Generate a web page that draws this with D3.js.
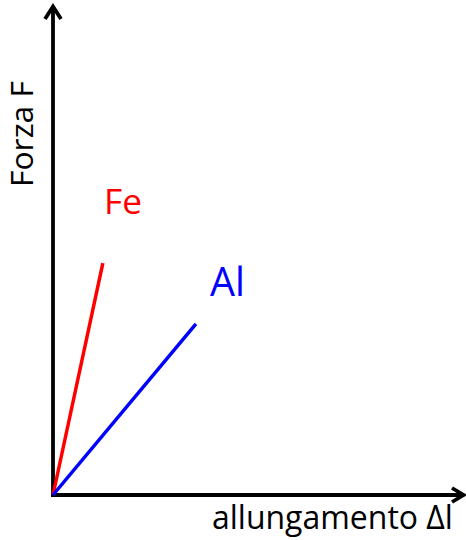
<!DOCTYPE html>
<html>
<head>
<meta charset="utf-8">
<script src="https://cdn.jsdelivr.net/npm/d3@7"></script>
<style>
  html, body { margin: 0; padding: 0; background: #fff; }
  svg { display: block; }
</style>
</head>
<body>
<script>
// ---- data ----
const materials = ["Fe", "Al"];
const colors = ["#ff0000", "#0000ff"];
const elongation = [12.1, 34.7];   // end point Δl (arbitrary units)
const force = [47.3, 34.9];        // end point F (arbitrary units)
const xLabel = "allungamento Δl";
const yLabel = "Forza F";

const W = 466, H = 540;
const svg = d3.select("body").append("svg").attr("width", W).attr("height", H);

const x = d3.scaleLinear().domain([0, 100]).range([53, 465]);
const y = d3.scaleLinear().domain([0, 100]).range([495, 5]);

const font = "'Open Sans', 'Noto Sans', sans-serif";

// axes
const axisG = svg.append("g").attr("stroke", "#000").attr("stroke-width", 3.8)
  .attr("fill", "none").attr("stroke-linecap", "butt");
axisG.append("line").attr("x1", x(0)).attr("y1", y(0) + 1.9).attr("x2", x(0)).attr("y2", y(100) + 1);
axisG.append("line").attr("x1", x(0) - 1.9).attr("y1", y(0)).attr("x2", x(100) - 1).attr("y2", y(0));
// arrowheads (open chevrons)
axisG.append("path").attr("stroke-linejoin", "miter")
  .attr("d", `M${x(0) - 8},${y(100) + 14} L${x(0)},${y(100) + 1.5} L${x(0) + 8},${y(100) + 14}`);
axisG.append("path").attr("stroke-linejoin", "miter")
  .attr("d", `M${x(100) - 13},${y(0) - 7} L${x(100) - 1.5},${y(0)} L${x(100) - 13},${y(0) + 7}`);

// lines
materials.forEach((m, i) => {
  svg.append("line")
    .attr("x1", x(0)).attr("y1", y(0))
    .attr("x2", x(elongation[i])).attr("y2", y(force[i]))
    .attr("stroke", colors[i]).attr("stroke-width", 3.5);
});

// axis-title / label helper: scale font so text spans target width
function fit(sel, target) {
  const w = sel.node().getComputedTextLength();
  const fs = parseFloat(sel.style("font-size"));
  sel.style("font-size", (fs * target / w) + "px");
}

// series labels
const labelPos = [
  { x: 104, y: 214, w: 38 },
  { x: 210, y: 296, w: 35 }
];
materials.forEach((m, i) => {
  const t = svg.append("text")
    .attr("x", labelPos[i].x).attr("y", labelPos[i].y)
    .attr("fill", colors[i])
    .style("font-family", font).style("font-size", "34px")
    .text(m);
  fit(t, labelPos[i].w);
});

// axis titles
const xt = svg.append("text")
  .attr("x", 212).attr("y", 529)
  .attr("fill", "#000")
  .style("font-family", font).style("font-size", "31px")
  .text(xLabel);
fit(xt, 241);

const yt = svg.append("text")
  .attr("transform", "translate(33,134) rotate(-90)")
  .attr("text-anchor", "middle")
  .attr("fill", "#000")
  .style("font-family", font).style("font-size", "31px")
  .text(yLabel);
fit(yt, 106);
</script>
</body>
</html>
